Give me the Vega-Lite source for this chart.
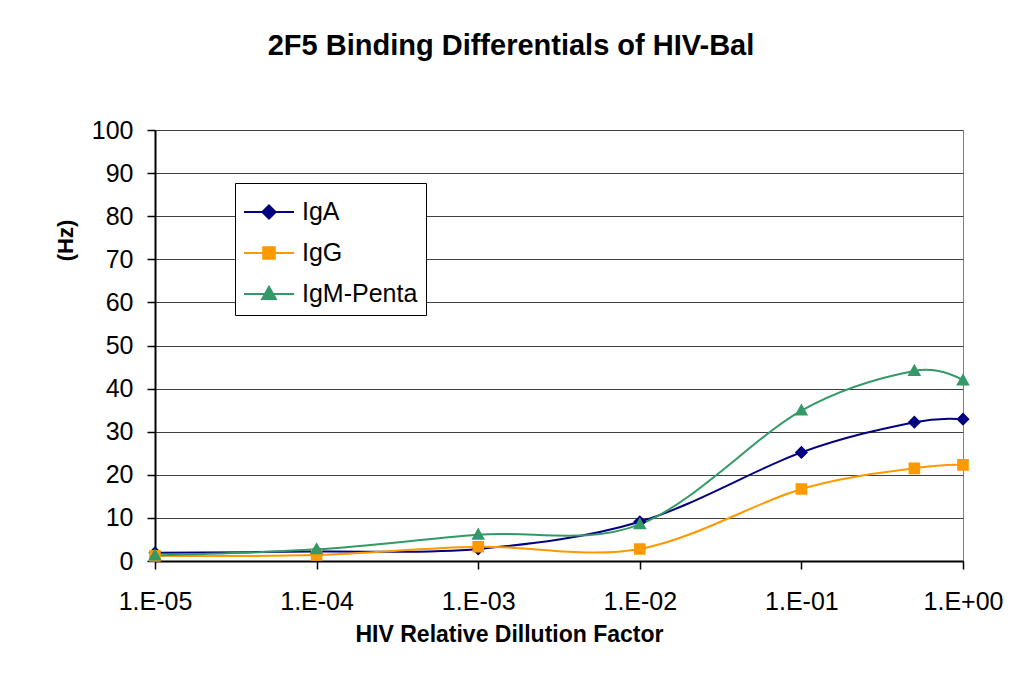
{
  "$schema": "https://vega.github.io/schema/vega-lite/v6.json",
  "autosize": {"type": "none"},
  "padding": {"left": 155, "top": 130, "right": 60, "bottom": 135},
  "width": 808,
  "height": 431,
  "background": "white",
  "config": {
    "font": "Liberation Sans",
    "view": {"stroke": "#808080", "strokeWidth": 1},
    "axis": {"labelColor": "black", "titleColor": "black", "domainColor": "black", "tickColor": "black"}
  },
  "title": {
    "text": "2F5 Binding Differentials of HIV-Bal",
    "fontSize": 29,
    "fontWeight": "bold",
    "color": "black",
    "anchor": "middle",
    "frame": "group",
    "baseline": "alphabetic",
    "dx": -48,
    "offset": 34
  },
  "data": {
    "values": [
      {"dilution": 0.00001, "series": "IgA", "hz": 1.9},
      {"dilution": 0.0001, "series": "IgA", "hz": 2.2},
      {"dilution": 0.001, "series": "IgA", "hz": 2.8},
      {"dilution": 0.01, "series": "IgA", "hz": 9.1},
      {"dilution": 0.1, "series": "IgA", "hz": 25.2},
      {"dilution": 0.5, "series": "IgA", "hz": 32.2},
      {"dilution": 1, "series": "IgA", "hz": 32.9},
      {"dilution": 0.00001, "series": "IgG", "hz": 1.2},
      {"dilution": 0.0001, "series": "IgG", "hz": 1.4},
      {"dilution": 0.001, "series": "IgG", "hz": 3.3},
      {"dilution": 0.01, "series": "IgG", "hz": 2.8},
      {"dilution": 0.1, "series": "IgG", "hz": 16.7},
      {"dilution": 0.5, "series": "IgG", "hz": 21.5},
      {"dilution": 1, "series": "IgG", "hz": 22.3},
      {"dilution": 0.00001, "series": "IgM-Penta", "hz": 1.3},
      {"dilution": 0.0001, "series": "IgM-Penta", "hz": 2.7},
      {"dilution": 0.001, "series": "IgM-Penta", "hz": 6.1},
      {"dilution": 0.01, "series": "IgM-Penta", "hz": 8.5},
      {"dilution": 0.1, "series": "IgM-Penta", "hz": 34.9},
      {"dilution": 0.5, "series": "IgM-Penta", "hz": 44.1},
      {"dilution": 1, "series": "IgM-Penta", "hz": 41.9}
    ]
  },
  "encoding": {
    "x": {
      "field": "dilution",
      "type": "quantitative",
      "scale": {"type": "log", "domain": [0.00001, 1], "nice": false},
      "axis": {
        "title": "HIV Relative Dillution Factor",
        "titleFontSize": 23,
        "titleFontWeight": "bold",
        "titleBaseline": "alphabetic",
        "titleAlign": "center",
        "titleX": 354,
        "titleY": 80,
        "values": [0.00001, 0.0001, 0.001, 0.01, 0.1, 1],
        "labelExpr": "'1.E' + (round(log(datum.value) / LN10) < 0 ? '-' : '+') + (abs(round(log(datum.value) / LN10)) < 10 ? '0' : '') + abs(round(log(datum.value) / LN10))",
        "labelFontSize": 25,
        "labelPadding": 20,
        "labelFlush": false,
        "labelOverlap": false,
        "tickSize": 8,
        "tickWidth": 1.5,
        "domainWidth": 2,
        "grid": false
      }
    },
    "y": {
      "field": "hz",
      "type": "quantitative",
      "scale": {"domain": [0, 100], "nice": false},
      "axis": {
        "title": "(Hz)",
        "titleFontSize": 22,
        "titleFontWeight": "bold",
        "titleAngle": -90,
        "titleAlign": "center",
        "titleBaseline": "middle",
        "titleX": -90,
        "titleY": 110,
        "values": [0, 10, 20, 30, 40, 50, 60, 70, 80, 90, 100],
        "labelFontSize": 25,
        "labelPadding": 14,
        "tickSize": 8,
        "tickWidth": 1.5,
        "domainWidth": 2,
        "grid": true,
        "gridColor": "#404040",
        "gridWidth": 1
      }
    },
    "color": {
      "field": "series",
      "type": "nominal",
      "scale": {"domain": ["IgA", "IgG", "IgM-Penta"], "range": ["#000080", "#FF9900", "#339966"]},
      "legend": {
        "title": null,
        "orient": "none",
        "legendX": 80,
        "legendY": 53,
        "symbolSize": 1600,
        "symbolOffset": 5,
        "labelFontSize": 25,
        "labelColor": "black",
        "labelOffset": 12,
        "padding": 8,
        "rowPadding": 7,
        "strokeColor": "black",
        "fillColor": "white",
        "encode": {
          "symbols": {
            "update": {
              "stroke": {"scale": "color", "field": "value"},
              "strokeWidth": {"value": 2}
            }
          }
        }
      }
    }
  },
  "layer": [
    {
      "mark": {"type": "line", "interpolate": "cardinal", "strokeWidth": 2}
    },
    {
      "mark": {"type": "point", "filled": true, "opacity": 1, "size": 1600, "strokeWidth": 0},
      "encoding": {
        "shape": {
          "field": "series",
          "type": "nominal",
          "scale": {
            "domain": ["IgA", "IgG", "IgM-Penta"],
            "range": [
              "M-1.25,0L1.25,0M0,-0.33L0.33,0L0,0.33L-0.33,0Z",
              "M-1.25,0L1.25,0M-0.29,-0.29L0.29,-0.29L0.29,0.29L-0.29,0.29Z",
              "M-1.25,0L1.25,0M0,-0.36L0.34,0.25L-0.34,0.25Z"
            ]
          },
          "legend": {
            "title": null,
            "orient": "none",
            "legendX": 80,
            "legendY": 53,
            "symbolSize": 1600,
            "symbolOffset": 5,
            "labelFontSize": 25,
            "labelColor": "black",
            "labelOffset": 12,
            "padding": 8,
            "rowPadding": 7,
            "strokeColor": "black",
            "fillColor": "white",
            "encode": {
              "symbols": {
                "update": {
                  "stroke": {"scale": "color", "field": "value"},
                  "strokeWidth": {"value": 2}
                }
              }
            }
          }
        }
      }
    }
  ]
}
